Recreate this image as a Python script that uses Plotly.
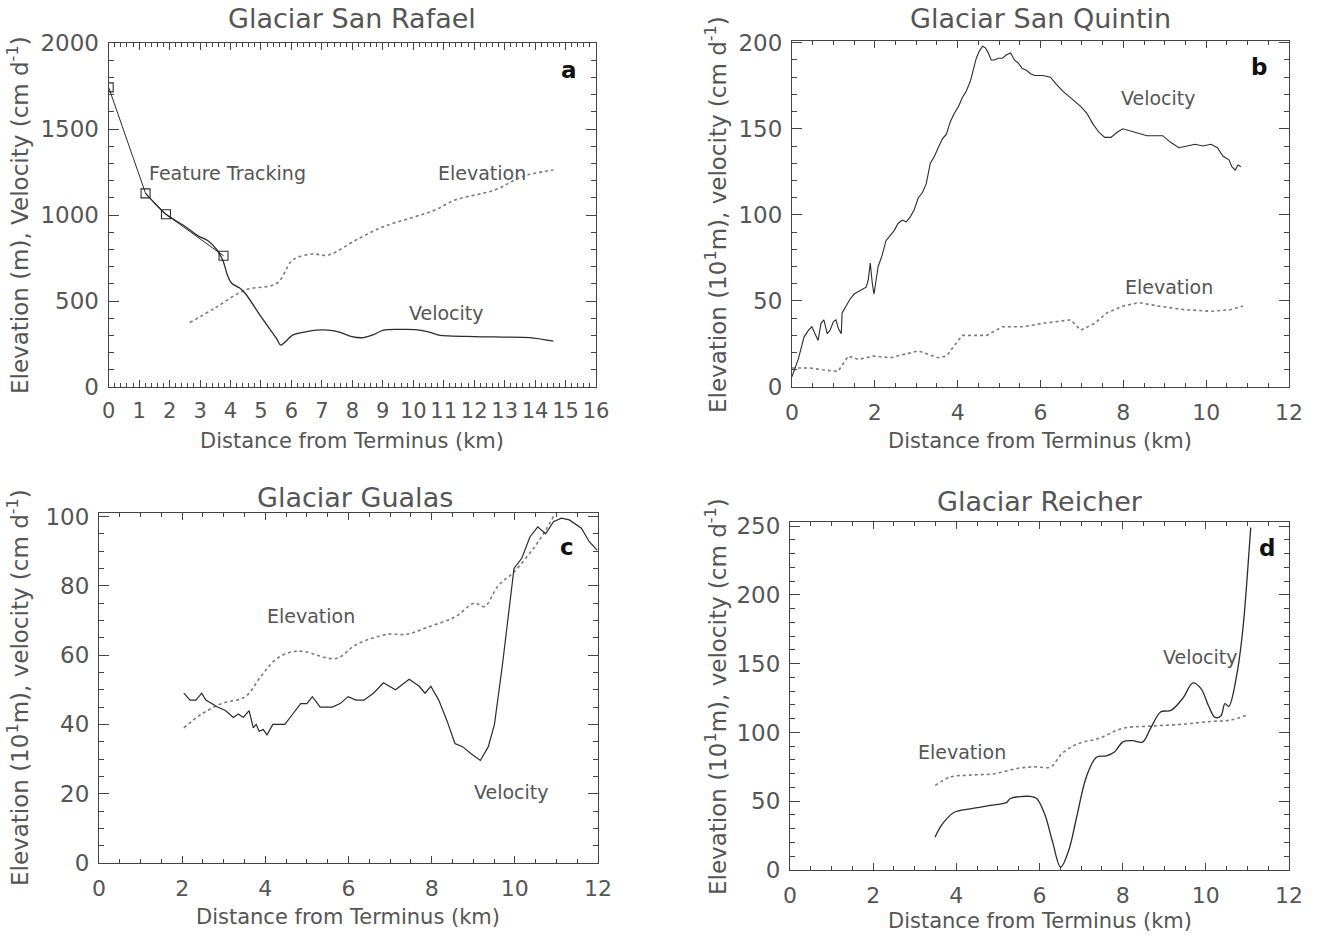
import plotly.graph_objects as go

# ---------------- Data ----------------
# Panel a: Glaciar San Rafael
a_vel_x = [1.21, 1.88, 2.5, 2.92, 3.25, 3.55, 3.75, 3.9, 4.03, 4.3, 4.48, 5.0, 5.5, 5.65, 6.04, 6.5, 6.82, 7.21, 7.6, 7.98, 8.37, 8.7, 9.02, 9.5, 10.06, 10.5, 10.84, 12.0, 13.0, 13.83, 14.6]
a_vel_y = [1126, 1004, 935, 880, 852, 798, 735, 650, 605, 575, 545, 409, 285, 244, 302, 322, 331, 331, 318, 293, 287, 305, 331, 335, 334, 320, 302, 293, 290, 287, 267]
a_ft_x = [0.0, 1.21, 1.88, 3.77]
a_ft_y = [1742, 1126, 1004, 763]
a_elev_x = [2.66, 3.47, 4.48, 5.52, 6.04, 6.68, 7.21, 8.12, 9.02, 10.06, 10.72, 11.37, 12.67, 13.58, 14.6]
a_elev_y = [374, 457, 564, 603, 738, 773, 767, 855, 932, 990, 1029, 1087, 1145, 1223, 1262]

# Panel b: Glaciar San Quintin
b_vel_x = [0.0, 0.08, 0.15, 0.29, 0.4, 0.48, 0.56, 0.63, 0.7, 0.77, 0.85, 0.92, 1.0, 1.06, 1.12, 1.19, 1.21, 1.3, 1.40, 1.50, 1.65, 1.79, 1.84, 1.89, 1.94, 1.98, 2.08, 2.17, 2.27, 2.37, 2.47, 2.56, 2.66, 2.76, 2.86, 2.95, 3.05, 3.15, 3.24, 3.34, 3.44, 3.53, 3.63, 3.73, 3.82, 3.92, 4.02, 4.11, 4.21, 4.31, 4.38, 4.45, 4.52, 4.60, 4.67, 4.74, 4.81, 4.89, 4.98, 5.08, 5.18, 5.28, 5.37, 5.47, 5.56, 5.66, 5.76, 5.86, 6.05, 6.24, 6.38, 6.53, 6.68, 6.82, 6.97, 7.12, 7.26, 7.41, 7.55, 7.70, 7.85, 7.99, 8.14, 8.28, 8.43, 8.57, 8.76, 8.95, 9.15, 9.34, 9.54, 9.73, 9.92, 10.12, 10.27, 10.41, 10.55, 10.62, 10.70, 10.77, 10.84]
b_vel_y = [6, 11, 16, 29, 33, 35, 31, 27, 37, 39, 31, 33, 38, 39, 34, 31, 43, 47, 51, 54, 56, 58, 62, 72, 60, 54, 70, 76, 85, 88, 91, 95, 97, 96, 99, 103, 110, 113, 118, 130, 134, 139, 144, 147, 154, 159, 163, 168, 172, 178, 185, 191, 195, 198, 197, 194, 190, 190, 191, 191, 193, 194, 190, 188, 185, 184, 182, 181, 181, 180, 176, 172, 169, 166, 163, 159, 153, 148, 145, 145, 148, 150, 149, 148, 147, 146, 146, 146, 142, 139, 140, 141, 140, 141, 139, 134, 132, 128, 126, 129, 128]
b_elev_x = [0.0, 0.44, 0.73, 1.11, 1.36, 1.60, 1.98, 2.37, 3.05, 3.53, 3.73, 4.11, 4.70, 5.08, 5.57, 6.05, 6.73, 6.97, 7.31, 7.60, 7.99, 8.37, 8.86, 9.44, 10.12, 10.60, 10.89]
b_elev_y = [11, 11, 10, 9, 18, 16, 18, 17, 21, 17, 18, 30, 30, 35, 35, 37, 39, 33, 37, 43, 47, 49, 47, 45, 44, 45, 47]

# Panel c: Glaciar Gualas
c_vel_x = [2.04, 2.19, 2.33, 2.47, 2.57, 2.71, 2.85, 3.04, 3.23, 3.35, 3.47, 3.61, 3.71, 3.78, 3.85, 3.95, 4.04, 4.18, 4.47, 4.66, 4.85, 5.0, 5.13, 5.32, 5.61, 5.8, 5.99, 6.18, 6.37, 6.6, 6.84, 7.13, 7.3, 7.46, 7.70, 7.84, 7.98, 8.17, 8.37, 8.56, 8.75, 8.94, 9.17, 9.36, 9.51, 9.70, 9.89, 9.98, 10.17, 10.36, 10.55, 10.74, 10.93, 11.12, 11.31, 11.60, 11.79, 11.98]
c_vel_y = [49, 47, 47, 49, 47, 46, 45, 44, 42, 43, 42, 44, 39, 40, 38, 38.5, 37, 40, 40, 43, 46, 46, 48, 45, 45, 46, 48, 47, 47, 49, 52, 50, 51.5, 53, 51, 49, 51, 47, 41, 34.5, 33.5, 31.6, 29.6, 33.5, 40, 57, 76, 85, 88, 94, 97, 95, 98.5, 99.5, 99, 96.6, 92.7, 90.3]
c_elev_x = [2.04, 2.47, 2.95, 3.52, 3.90, 4.28, 4.66, 4.94, 5.70, 6.18, 6.94, 7.41, 7.89, 8.56, 9.03, 9.27, 9.60, 9.98, 10.46, 10.74, 10.93]
c_elev_y = [39, 43, 46, 48, 54, 59, 61, 61, 59, 63, 66, 66, 68, 71, 75, 74, 80, 84, 91, 96, 100]

# Panel d: Glaciar Reicher
d_vel_x = [3.49, 3.61, 3.76, 3.95, 4.34, 4.82, 5.20, 5.30, 5.78, 5.93, 6.12, 6.31, 6.51, 6.70, 6.89, 7.13, 7.37, 7.61, 7.81, 8.0, 8.24, 8.48, 8.67, 8.92, 9.16, 9.45, 9.69, 9.88, 10.07, 10.22, 10.36, 10.46, 10.55, 10.75, 10.89, 10.99, 11.08]
d_vel_y = [24, 31, 37, 42, 44.5, 47, 49, 52, 53.5, 52, 41, 21, 2, 14, 38, 68, 82, 83, 86, 93, 94, 93, 103, 115, 116, 125, 136, 132, 119, 111, 112, 121, 119, 143, 175, 211, 249]
d_elev_x = [3.49, 3.86, 4.34, 4.92, 5.49, 5.88, 6.27, 6.55, 6.94, 7.42, 8.0, 8.67, 9.45, 10.12, 10.60, 10.99]
d_elev_y = [61.5, 67.6, 69, 70, 74, 75, 75, 85, 92, 95.6, 103, 104.6, 106, 108, 109, 112.6]

titles = ["Glaciar San Rafael", "Glaciar San Quintin", "Glaciar Gualas", "Glaciar Reicher"]
panel_letters = ["a", "b", "c", "d"]
x_title = "Distance from Terminus (km)"
y_title_a = "Elevation (m), Velocity (cm d<sup>-1</sup>)"
y_title_other = "Elevation (10<sup>1</sup>m), velocity (cm d<sup>-1</sup>)"

# ---------------- Figure ----------------
W, H = 1318, 938
FONT = "DejaVu Sans"
TXT = "#555555"
VEL_C = "#2b2b2b"
ELEV_C = "#7a7a7a"
AX_C = "#444444"


def px_x(p):
    return p / W


def px_y(p):
    return 1 - p / H


fig = go.Figure()

vel_line = dict(color=VEL_C, width=1.3)
elev_line = dict(color=ELEV_C, width=1.6, dash="dot")

# panel a
fig.add_trace(go.Scatter(x=a_elev_x, y=a_elev_y, mode="lines", line=elev_line, line_shape="spline", xaxis="x", yaxis="y"))
fig.add_trace(go.Scatter(x=a_ft_x, y=a_ft_y, mode="lines+markers", line=dict(color=VEL_C, width=1.0),
                         marker=dict(symbol="square-open", size=9, color=VEL_C, line=dict(width=1.1)),
                         xaxis="x", yaxis="y"))
fig.add_trace(go.Scatter(x=a_vel_x, y=a_vel_y, mode="lines", line=dict(color=VEL_C, width=1.3, shape="spline", smoothing=0.8),
                         xaxis="x", yaxis="y"))
# panel b
fig.add_trace(go.Scatter(x=b_elev_x, y=b_elev_y, mode="lines", line=elev_line, xaxis="x2", yaxis="y2"))
fig.add_trace(go.Scatter(x=b_vel_x, y=b_vel_y, mode="lines", line=dict(color=VEL_C, width=1.1), xaxis="x2", yaxis="y2"))
# panel c
fig.add_trace(go.Scatter(x=c_elev_x, y=c_elev_y, mode="lines", line=elev_line, line_shape="spline", xaxis="x3", yaxis="y3"))
fig.add_trace(go.Scatter(x=c_vel_x, y=c_vel_y, mode="lines", line=dict(color=VEL_C, width=1.2), xaxis="x3", yaxis="y3"))
# panel d
fig.add_trace(go.Scatter(x=d_elev_x, y=d_elev_y, mode="lines", line=elev_line, line_shape="spline", xaxis="x4", yaxis="y4"))
fig.add_trace(go.Scatter(x=d_vel_x, y=d_vel_y, mode="lines", line=vel_line, line_shape="spline", xaxis="x4", yaxis="y4"))

# pixel frames: (left, right, top, bottom)
frames = [(108.7, 596, 43, 387), (792, 1289, 41, 387), (99, 598, 513, 863), (790, 1289, 522, 870)]
xranges = [[0, 16], [0, 12], [0, 12], [0, 12]]
yranges = [[0, 2000], [0, 201], [0, 101], [0, 253]]
xdt = [1, 2, 2, 2]
xminor = [0.2, 0.5, 0.5, 0.5]
ydt = [500, 50, 20, 50]
yminor = [100, 10, 5, 10]
xtick_size = [21, 22, 22, 22]

axis_common = dict(showgrid=False, zeroline=False, showline=True, linecolor=AX_C, linewidth=1.2,
                   mirror="allticks", ticks="inside", tickcolor=AX_C, tickwidth=1.1, automargin=False)
minor_common = dict(showgrid=False, zeroline=False, showline=False, mirror="allticks", ticks="inside",
                    tickcolor=AX_C, tickwidth=1.0, showticklabels=False, automargin=False)

layout = {}
for i in range(4):
    l, r, t, b = frames[i]
    sx = "" if i == 0 else str(i + 1)
    mx = str(i + 5)
    xdom = [px_x(l), px_x(r)]
    ydom = [px_y(b), px_y(t)]
    layout["xaxis" + sx] = dict(axis_common, domain=xdom, range=xranges[i], dtick=xdt[i], tick0=0,
                                anchor="y" + sx, ticklen=7, ticklabelstandoff=5, tickangle=0,
                                tickfont=dict(family=FONT, size=xtick_size[i], color=TXT))
    layout["yaxis" + sx] = dict(axis_common, domain=ydom, range=yranges[i], dtick=ydt[i], tick0=0,
                                anchor="x" + sx, ticklen=10, ticklabelstandoff=4,
                                tickfont=dict(family=FONT, size=23, color=TXT))
    # overlay axes that carry only the minor ticks
    layout["xaxis" + mx] = dict(minor_common, domain=xdom, range=xranges[i], dtick=xminor[i], tick0=0,
                                anchor="y" + mx, overlaying="x" + sx, ticklen=4)
    layout["yaxis" + mx] = dict(minor_common, domain=ydom, range=yranges[i], dtick=yminor[i], tick0=0,
                                anchor="x" + mx, overlaying="y" + sx, ticklen=5)
    fig.add_trace(go.Scatter(x=[], y=[], mode="lines", xaxis="x" + mx, yaxis="y" + mx, hoverinfo="skip"))

annotations = []
title_pos = [(352, 18), (1040, 18), (355, 497), (1040, 501)]
xt_pos = [(352, 441), (1040, 441), (348, 917), (1040, 921)]
yt_pos = [(18, 215), (716, 214), (18, 688), (716, 696)]
for i in range(4):
    annotations.append(dict(text=titles[i], x=px_x(title_pos[i][0]), y=px_y(title_pos[i][1]), xref="paper", yref="paper",
                            showarrow=False, font=dict(family=FONT, size=27, color=TXT), xanchor="center", yanchor="middle"))
    annotations.append(dict(text=x_title, x=px_x(xt_pos[i][0]), y=px_y(xt_pos[i][1]), xref="paper", yref="paper",
                            showarrow=False, font=dict(family=FONT, size=21, color=TXT), xanchor="center", yanchor="middle"))
    annotations.append(dict(text=y_title_a if i == 0 else y_title_other, x=px_x(yt_pos[i][0]), y=px_y(yt_pos[i][1]),
                            xref="paper", yref="paper", textangle=-90,
                            showarrow=False, font=dict(family=FONT, size=23, color=TXT), xanchor="center", yanchor="middle"))

# in-plot labels (data coordinates)
labels = [
    ("x", "y", 3.9, 1246, "Feature Tracking"), ("x", "y", 12.27, 1246, "Elevation"), ("x", "y", 11.1, 432, "Velocity"),
    ("x2", "y2", 8.86, 168, "Velocity"), ("x2", "y2", 9.1, 58, "Elevation"),
    ("x3", "y3", 5.09, 71.4, "Elevation"), ("x3", "y3", 9.93, 20.4, "Velocity"),
    ("x4", "y4", 4.13, 85.8, "Elevation"), ("x4", "y4", 9.88, 154.7, "Velocity"),
]
for xr, yr, xv, yv, txt in labels:
    annotations.append(dict(text=txt, x=xv, y=yv, xref=xr, yref=yr, showarrow=False,
                            font=dict(family=FONT, size=19, color=TXT), xanchor="center", yanchor="middle"))
letter_pos = [("x", "y", 15.1, 1843), ("x2", "y2", 11.28, 186), ("x3", "y3", 11.26, 91.3), ("x4", "y4", 11.47, 234)]
for (xr, yr, xv, yv), let in zip(letter_pos, panel_letters):
    annotations.append(dict(text="<b>" + let + "</b>", x=xv, y=yv, xref=xr, yref=yr, showarrow=False,
                            font=dict(family=FONT, size=23, color="#111"), xanchor="center", yanchor="middle"))

fig.update_layout(**layout)
fig.update_layout(width=W, height=H, margin=dict(l=0, r=0, t=0, b=0), showlegend=False,
                  paper_bgcolor="white", plot_bgcolor="white", annotations=annotations)

fig.write_html("out.html", config={"displayModeBar": False},
               post_script="document.body.style.margin='0';document.body.style.padding='0';")
